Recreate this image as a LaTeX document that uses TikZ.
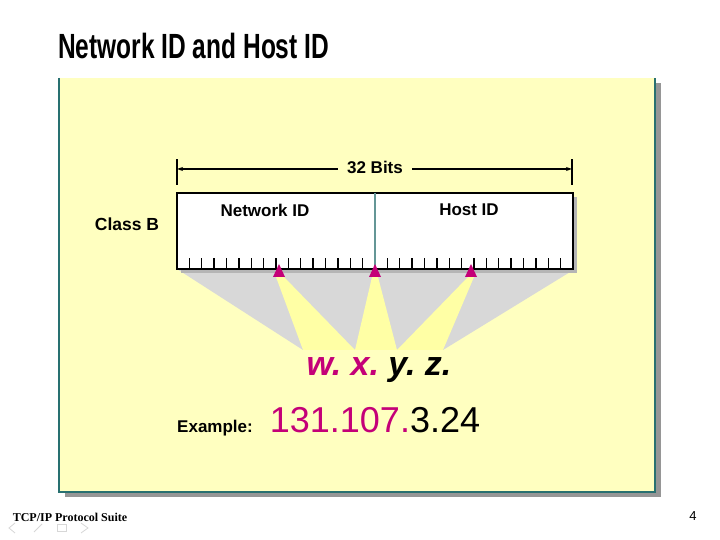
\documentclass[tikz,border=0pt]{standalone}
\usepackage{fontspec}
\setmainfont{Liberation Sans}
\newfontfamily\titlefont{Liberation Sans}[FakeStretch=0.7]
\newfontfamily\footfont{Liberation Serif}
\usetikzlibrary{arrows.meta}
\definecolor{ink}{RGB}{0,0,0}
\definecolor{pad}{RGB}{255,255,192}
\definecolor{beam}{RGB}{255,255,165}
\definecolor{rim}{RGB}{40,112,112}
\definecolor{shade}{RGB}{150,150,150}
\definecolor{fan}{RGB}{216,216,216}
\definecolor{mag}{RGB}{196,0,120}
\definecolor{divide}{RGB}{100,150,150}
\definecolor{navi}{RGB}{215,215,215}
\tikzset{
  lbl/.style={font=\bfseries\fontsize{17}{17}\selectfont,text=ink,inner sep=0pt},
  pin/.style={fill=mag,draw=none},
}
\begin{document}
\begin{tikzpicture}[x=1pt,y=1pt,line cap=butt,line join=miter]
\useasboundingbox[fill=white] (0,0) rectangle (720,540);
% slide panel
\path[fill=shade] (65,43) rectangle (661,457);
\path[fill=pad] (59,48) rectangle (655,462);
\draw[rim,line width=1.2pt] (59,462) -- (59,48) -- (655,48) -- (655,462);
\node[anchor=west,inner sep=0pt,font=\titlefont\bfseries\fontsize{35}{35}\selectfont] (title) at (58,494) {Network ID and Host ID};
% fan below the address
\path[fill=fan] (177,271) -- (575,271) -- (443,190) -- (303,190) -- cycle;
\path[fill=beam] (276,263) -- (284,263) -- (355,190) -- (303,190) -- cycle;
\path[fill=beam] (372,263) -- (378,263) -- (397,190) -- (355,190) -- cycle;
\path[fill=beam] (468,263) -- (474,263) -- (443,190) -- (397,190) -- cycle;
% address box
\path[fill=shade!70] (181,267) rectangle (577,343);
\path[fill=white,draw=ink,line width=1.3pt] (177,271) rectangle (573,347);
\foreach \k in {1,...,31}
  \draw[ink,line width=1.4pt] ({177+\k*12.375},271) -- ++(0,11);
\draw[divide,line width=1.4pt] (375,347) -- (375,271);
\node[lbl] (net) at (265,330) {Network ID};
\node[lbl] (host) at (469,330) {Host ID};
\node[lbl,font=\bfseries\fontsize{17.5}{17.5}\selectfont] (cls) at (127,316) {Class B};
% width marker
\node[lbl,fill=pad,inner xsep=9pt] (bits) at (375,373) {32 Bits};
\coordinate (lend) at (177,371);
\coordinate (rend) at (572,371);
\draw[ink,line width=1.1pt] (177,355) -- (177,381);
\draw[ink,line width=1.1pt] (572,355) -- (572,381);
\draw[ink,line width=1.3pt,-{Stealth[length=6pt,width=4pt]}] (bits.west|-lend) -- (lend);
\draw[ink,line width=1.3pt,-{Stealth[length=6pt,width=4pt]}] (bits.east|-rend) -- (rend);
% octet pins
\foreach \px in {279,375,471}
  \path[pin] (\px-6,263) -- (\px,276) -- (\px+6,263) -- cycle;
% dotted notation
\node[inner sep=0pt,font=\bfseries\itshape\fontsize{34}{34}\selectfont] (wxyz) at (379,170) {\textcolor{mag}{w.\ x.}\ y.\ z.};
\node[inner sep=0pt,font=\fontsize{36}{36}\selectfont] (addr) at (375,120) {\textcolor{mag}{131.107.}3.24};
\coordinate (exat) at (215,0);
\node[lbl,anchor=base] (ex) at (exat|-addr.base) {Example:};
% footer
\node[inner sep=0pt,font=\footfont\bfseries\fontsize{12}{12}\selectfont] (foot) at (70,23) {TCP/IP Protocol Suite};
\node[inner sep=0pt,font=\fontsize{13}{13}\selectfont] (page) at (693,24) {4};
\draw[navi,line width=.8pt] (15,17) -- (9,12) -- (15,7);
\draw[navi,line width=.8pt] (34,8) -- (42,16);
\draw[navi,line width=.8pt] (57,9) rectangle (66,16);
\draw[navi,line width=.8pt] (81,17) -- (88,12) -- (81,7);
\end{tikzpicture}
\end{document}
